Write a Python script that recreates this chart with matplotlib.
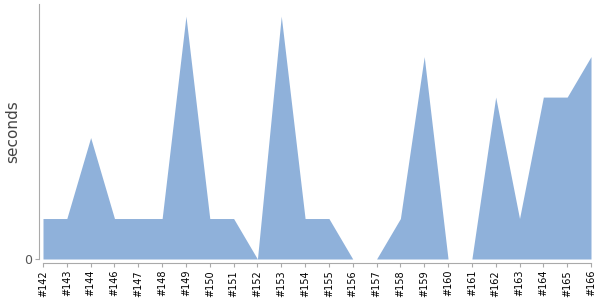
import matplotlib
matplotlib.use("Agg")
import matplotlib.pyplot as plt
import numpy as np

builds = ["#142", "#143", "#144", "#146", "#147", "#148", "#149", "#150", "#151", "#152",
          "#153", "#154", "#155", "#156", "#157", "#158", "#159", "#160", "#161", "#162",
          "#163", "#164", "#165", "#166"]
seconds = [1, 1, 3, 1, 1, 1, 6, 1, 1, 0,
           6, 1, 1, 0, 0, 1, 5, 0, 0, 4,
           1, 4, 4, 5]

fig = plt.figure(figsize=(6, 3), dpi=100)
ax = fig.add_axes([43/600, 1 - 259/300, (591 - 43)/600, (259 - 4)/300])
x = np.arange(len(builds))
ax.fill_between(x, seconds, 0, color="#8fb1da", linewidth=0)
ax.set_xlim(0, len(builds) - 1)
ax.set_ylim(0, 6.3)

for s in ["top", "right"]:
    ax.spines[s].set_visible(False)
for s in ["left", "bottom"]:
    ax.spines[s].set_position(("outward", 2.9))
    ax.spines[s].set_color("#aaaaaa")
    ax.spines[s].set_linewidth(0.8)

ax.set_xticks(x)
ax.set_xticklabels(builds, rotation=90, fontsize=7, color="black")
ax.set_yticks([0])
ax.set_yticklabels(["0"], fontsize=9, color="#555555")
ax.tick_params(axis="both", color="#aaaaaa", length=3, width=0.8, pad=2)
ax.set_ylabel("seconds", fontsize=11, color="#444444")
ax.yaxis.set_label_coords(-23/548, 0.5)

fig.savefig("out.png", dpi=100)
